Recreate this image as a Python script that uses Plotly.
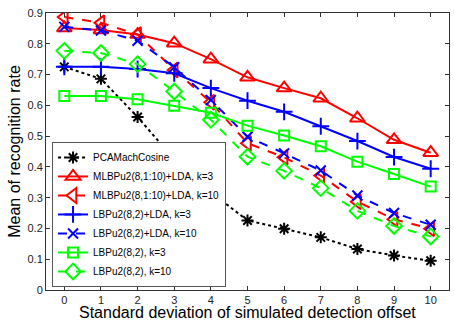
import plotly.graph_objects as go

x_offsets = [0, 1, 2, 3, 4, 5, 6, 7, 8, 9, 10]

pca_cos = [0.725, 0.686, 0.562, 0.425, 0.318, 0.226, 0.199, 0.171, 0.133, 0.112, 0.095]
mlbp_lda_k3 = [0.851, 0.845, 0.830, 0.802, 0.750, 0.691, 0.656, 0.623, 0.558, 0.488, 0.446]
mlbp_lda_k10 = [0.887, 0.868, 0.830, 0.715, 0.610, 0.477, 0.431, 0.372, 0.287, 0.230, 0.199]
lbp_lda_k3 = [0.725, 0.725, 0.718, 0.704, 0.656, 0.615, 0.579, 0.532, 0.484, 0.432, 0.394]
lbp_lda_k10 = [0.855, 0.843, 0.810, 0.724, 0.617, 0.498, 0.444, 0.388, 0.307, 0.250, 0.212]
lbp_k3 = [0.630, 0.630, 0.620, 0.599, 0.576, 0.534, 0.502, 0.467, 0.417, 0.377, 0.336]
lbp_k10 = [0.777, 0.770, 0.734, 0.645, 0.553, 0.433, 0.387, 0.331, 0.257, 0.208, 0.174]

series_names = [
    "PCAMachCosine",
    "MLBPu2(8,1:10)+LDA, k=3",
    "MLBPu2(8,1:10)+LDA, k=10",
    "LBPu2(8,2)+LDA, k=3",
    "LBPu2(8,2)+LDA, k=10",
    "LBPu2(8,2), k=3",
    "LBPu2(8,2), k=10",
]
series_values = [pca_cos, mlbp_lda_k3, mlbp_lda_k10, lbp_lda_k3, lbp_lda_k10, lbp_k3, lbp_k10]

x_title = "Standard deviation of simulated detection offset"
y_title = "Mean of recognition rate"

styles = [
    dict(color="#000000", dash="dot", symbol="asterisk-open", size=10),
    dict(color="#ff0000", dash="solid", symbol="triangle-up-open", size=13),
    dict(color="#ff0000", dash="dash", symbol="triangle-left-open", size=13),
    dict(color="#0000ff", dash="solid", symbol="cross-thin-open", size=12),
    dict(color="#0000ff", dash="dash", symbol="x-thin-open", size=10),
    dict(color="#00ff00", dash="solid", symbol="square-open", size=10),
    dict(color="#00ff00", dash="dash", symbol="diamond-open", size=12),
]

fig = go.Figure()
for name, vals, st in zip(series_names, series_values, styles):
    fig.add_trace(go.Scatter(
        x=x_offsets, y=vals, name=name, mode="lines+markers",
        line=dict(color=st["color"], width=2, dash=st["dash"]),
        marker=dict(symbol=st["symbol"], size=st["size"], color=st["color"],
                    line=dict(color=st["color"], width=2)),
    ))

axis_common = dict(
    showline=True, linecolor="#333333", linewidth=1, mirror="ticks",
    ticks="inside", ticklen=4, tickcolor="#333333", showgrid=False, zeroline=False,
    tickfont=dict(family="Arial, Liberation Sans, sans-serif", size=11, color="#222222"),
)

fig.update_layout(
    width=454, height=320,
    margin=dict(l=46, r=5, t=13, b=30),
    paper_bgcolor="white", plot_bgcolor="white",
    font=dict(family="Arial, Liberation Sans, sans-serif", color="#000000"),
    xaxis=dict(range=[-0.5, 10.5], tickmode="linear", tick0=0, dtick=1,
               **axis_common),
    yaxis=dict(range=[0, 0.9], tickmode="linear", tick0=0, dtick=0.1,
               title=dict(text=y_title, font=dict(size=16), standoff=2),
               **axis_common),
    legend=dict(x=0.015, y=0.011, xanchor="left", yanchor="bottom",
                bgcolor="white", bordercolor="#555555", borderwidth=1,
                font=dict(size=10, family="Arial, Liberation Sans, sans-serif"),
                tracegroupgap=0, itemwidth=30),
    showlegend=True,
    annotations=[dict(text=x_title, xref="paper", yref="paper", x=0.5, y=-0.081,
                      xanchor="center", yanchor="middle", showarrow=False,
                      font=dict(size=16, family="Arial, Liberation Sans, sans-serif",
                                color="#000000"))],
)

# remove the browser's default 8px page margin so the figure sits at the window's corner
fig.write_html("out.html", config=dict(displayModeBar=False),
               post_script="document.body.style.margin='0';")
